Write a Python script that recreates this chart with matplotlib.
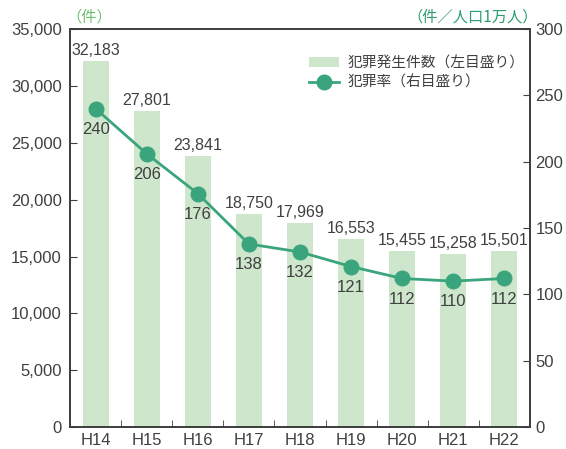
import matplotlib
matplotlib.use("Agg")
import matplotlib.pyplot as plt
from matplotlib.ticker import FuncFormatter, MultipleLocator
import numpy as np

plt.rcParams['font.family'] = ['Liberation Sans', 'Noto Sans CJK JP', 'DejaVu Sans']

categories = ["H14", "H15", "H16", "H17", "H18", "H19", "H20", "H21", "H22"]
crimes = [32183, 27801, 23841, 18750, 17969, 16553, 15455, 15258, 15501]
rate = [240, 206, 176, 138, 132, 121, 112, 110, 112]

bar_color = "#cde6cc"
line_color = "#3aa57c"
text_color = "#404040"
cjk = ['Noto Sans CJK JP', 'DejaVu Sans']

fig = plt.figure(figsize=(5.66, 4.49), dpi=100)
ax = fig.add_axes([0.124, 0.049, 0.812, 0.886])
ax2 = ax.twinx()
ax.set_zorder(1)
ax2.set_zorder(2)
ax.patch.set_visible(False)

x = np.arange(len(categories))
bars = ax.bar(x, crimes, width=0.51, color=bar_color, label="犯罪発生件数（左目盛り）")
ax.set_xlim(-0.5, len(categories) - 0.5)
ax.set_ylim(0, 35000)
ax.yaxis.set_major_locator(MultipleLocator(5000))
ax.yaxis.set_major_formatter(FuncFormatter(lambda v, p: f"{int(v):,}"))
ax.set_xticks(x)
ax.set_xticklabels(categories)
ax.set_xticks(np.arange(0.5, len(categories) - 0.5, 1), minor=True)
ax.tick_params(axis='x', which='major', length=0, labelsize=12, colors=text_color, pad=4)
ax.tick_params(axis='x', which='minor', direction='in', length=5, color=text_color)
ax.tick_params(axis='y', direction='in', length=5, labelsize=12, colors=text_color, pad=6)

for xi, v in zip(x, crimes):
    ax.text(xi, v + 250, f"{v:,}", ha='center', va='bottom', fontsize=11.5, color=text_color)

line, = ax2.plot(x, rate, color=line_color, lw=2, marker='o', markersize=10.5,
                 label="犯罪率（右目盛り）")
ax2.set_ylim(0, 300)
ax2.yaxis.set_major_locator(MultipleLocator(50))
ax2.tick_params(axis='y', direction='in', length=5, labelsize=12, colors=text_color, pad=4)
for xi, v in zip(x, rate):
    ax2.text(xi, v - 10, f"{v}", ha='center', va='top', fontsize=12, color=text_color)

for a in (ax, ax2):
    for s in a.spines.values():
        s.set_color(text_color)
        s.set_linewidth(1.3)

fig.text(0.118, 0.962, "（件）", ha='left', va='center', fontsize=11, color="#6cc070", family=cjk)
fig.text(0.95, 0.962, "（件／人口1万人）", ha='right', va='center', fontsize=11,
         color="#2a9e6e", family=cjk)

handles = [bars, line]
leg = ax2.legend(handles, [h.get_label() for h in handles], loc='upper right',
                 bbox_to_anchor=(1.017, 0.965), frameon=False,
                 prop={'family': cjk, 'size': 10.6},
                 handlelength=2.0, labelspacing=0.35, handletextpad=0.6, labelcolor=text_color)

fig.savefig("out.png", dpi=100)
